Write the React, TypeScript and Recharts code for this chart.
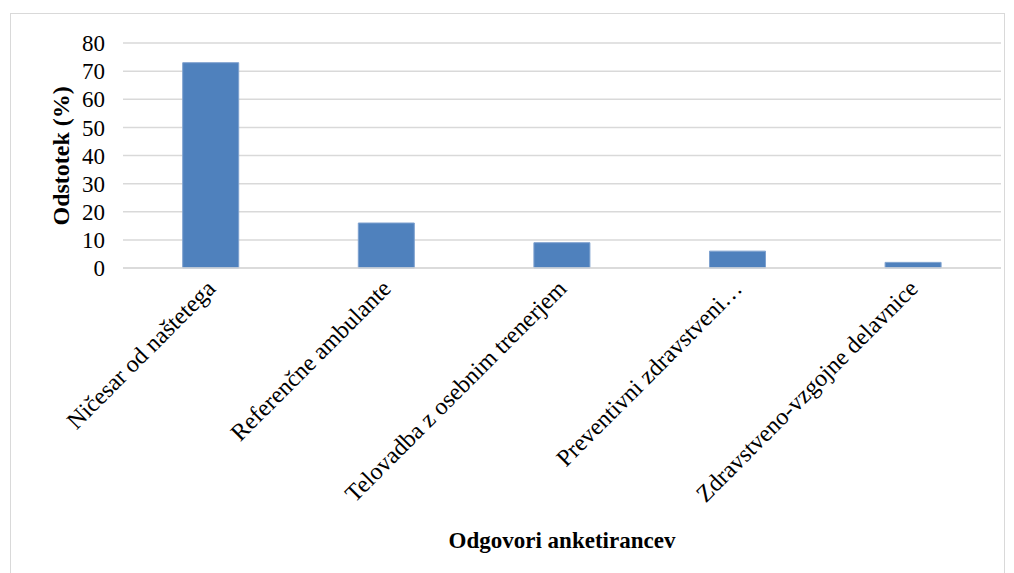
import React from 'react';
import { BarChart, Bar, XAxis, YAxis, CartesianGrid } from 'recharts';

const categories = [
  'Ničesar od naštetega',
  'Referenčne ambulante',
  'Telovadba z osebnim trenerjem',
  'Preventivni zdravstveni…',
  'Zdravstveno-vzgojne delavnice',
];
const percentages = [73, 16, 9, 6, 2];
const yTicks = [0, 10, 20, 30, 40, 50, 60, 70, 80];

const data = categories.map((name, i) => ({ name, value: percentages[i] }));

const FONT = "'Liberation Serif', 'Times New Roman', serif";

const AngledTick = (props: any) => {
  const { x, y, payload } = props;
  return (
    <g transform={`translate(${x + 6},${y + 14})`}>
      <text
        textAnchor="end"
        transform="rotate(-45)"
        style={{ fontFamily: FONT, fontSize: 24 }}
        fill="#000"
      >
        {payload.value}
      </text>
    </g>
  );
};

export default function App() {
  return (
    <div style={{ position: 'absolute', left: 0, top: 0, width: 1014, height: 573, background: '#fff', fontFamily: FONT }}>
      <div
        style={{
          position: 'absolute',
          left: 10,
          top: 13,
          width: 995,
          height: 570,
          border: '1px solid #d9d9d9',
          boxSizing: 'border-box',
        }}
      />
      <div style={{ position: 'absolute', left: 0, top: 0 }}>
        <BarChart
          width={1014}
          height={573}
          data={data}
          margin={{ top: 43, right: 13, left: 0, bottom: 0 }}
          barCategoryGap="34%"
          style={{ fontFamily: FONT }}
        >
          <CartesianGrid vertical={false} stroke="#d9d9d9" strokeWidth={1.5} />
          <XAxis
            dataKey="name"
            height={305}
            axisLine={{ stroke: '#d9d9d9', strokeWidth: 1.5 }}
            tickLine={false}
            interval={0}
            tick={<AngledTick />}
            label={{
              value: 'Odgovori anketirancev',
              position: 'insideBottom',
              offset: 25,
              style: { fontFamily: FONT, fontSize: 23, fontWeight: 'bold', fill: '#000' },
            }}
          />
          <YAxis
            width={123}
            domain={[0, 80]}
            ticks={yTicks}
            interval={0}
            axisLine={false}
            tickLine={false}
            tickMargin={12}
            tick={{ style: { fontFamily: FONT, fontSize: 23 }, fill: '#000' }}
            label={{
              value: 'Odstotek (%)',
              angle: -90,
              position: 'insideLeft',
              offset: 60,
              dy: 70,
              style: { fontFamily: FONT, fontSize: 24, fontWeight: 'bold', fill: '#000' },
            }}
          />
          <Bar dataKey="value" fill="#4f81bd" stroke="#7ea1cf" strokeWidth={1} isAnimationActive={false} />
        </BarChart>
      </div>
    </div>
  );
}
